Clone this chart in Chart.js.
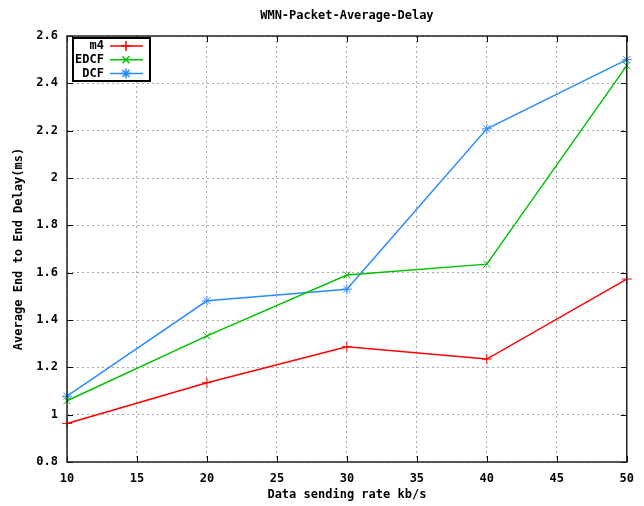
<!DOCTYPE html>
<html>
<head>
<meta charset="utf-8">
<script src="https://cdn.jsdelivr.net/npm/chart.js@4"></script>
<style>
    html, body { margin: 0; padding: 0; background: #fff; }
    #wrap { width: 644px; height: 506px; position: relative; }
</style>
</head>
<body>
<div id="wrap"><canvas id="chart"></canvas></div>
<script>
const rates = [10, 20, 30, 40, 50];
const m4 = [0.963, 1.135, 1.287, 1.235, 1.573];
const edcf = [1.059, 1.333, 1.590, 1.636, 2.475];
const dcf = [1.078, 1.481, 1.530, 2.208, 2.500];

const monoFont = { family: 'DejaVu Sans Mono', size: 12, weight: 'bold' };

const toPoints = (vals) => rates.map((r, i) => ({ x: r, y: vals[i] }));

// gnuplot-like frame, inner ticks and legend box //
const gnuplotFrame = {
    id: 'gnuplotFrame',
    afterDraw(c) {
        const ctx = c.ctx;
        const a = c.chartArea;
        const xs = c.scales.x, ys = c.scales.y;
        ctx.save();
        ctx.strokeStyle = '#000';
        ctx.lineWidth = 1;
        ctx.beginPath();
        xs.ticks.forEach(t => {
            const px = Math.round(xs.getPixelForValue(t.value)) + 0.5;
            ctx.moveTo(px, a.bottom); ctx.lineTo(px, a.bottom - 6);
            ctx.moveTo(px, a.top); ctx.lineTo(px, a.top + 6);
        });
        ys.ticks.forEach(t => {
            const py = Math.round(ys.getPixelForValue(t.value)) + 0.5;
            ctx.moveTo(a.left, py); ctx.lineTo(a.left + 6, py);
            ctx.moveTo(a.right, py); ctx.lineTo(a.right - 6, py);
        });
        ctx.stroke();
        ctx.strokeStyle = '#222';
        ctx.lineWidth = 1.5;
        ctx.strokeRect(a.left, a.top, a.right - a.left, a.bottom - a.top);

        // legend
        const bx = a.left + 6, by = a.top + 2, bw = 77, bh = 43;
        ctx.fillStyle = '#fff';
        ctx.fillRect(bx, by, bw, bh);
        ctx.strokeStyle = '#000';
        ctx.lineWidth = 2;
        ctx.strokeRect(bx, by, bw, bh);
        ctx.font = 'bold 12px "DejaVu Sans Mono"';
        ctx.textAlign = 'right';
        ctx.textBaseline = 'middle';
        c.data.datasets.forEach((ds, i) => {
            const y = by + 8 + i * 13.7;
            ctx.fillStyle = '#000';
            ctx.fillText(ds.label, bx + 31, y);
            ctx.strokeStyle = ds.borderColor;
            ctx.lineWidth = 1.5;
            ctx.beginPath();
            ctx.moveTo(bx + 37, y); ctx.lineTo(bx + 70, y);
            ctx.stroke();
            Chart.helpers.drawPoint(ctx, {
                pointStyle: ds.pointStyle, radius: 5, borderWidth: 1
            }, bx + 53, y);
        });
        ctx.restore();
    }
};

new Chart(document.querySelector('#chart'), {
    type: 'line',
    data: {
        datasets: [
            { label: 'm4', data: toPoints(m4), borderColor: '#ff0000', pointStyle: 'cross' },
            { label: 'EDCF', data: toPoints(edcf), borderColor: '#00c000', pointStyle: 'crossRot' },
            { label: 'DCF', data: toPoints(dcf), borderColor: '#2b8cff', pointStyle: 'star' }
        ].map(ds => Object.assign(ds, {
            borderWidth: 1.5,
            pointBorderColor: ds.borderColor,
            pointRadius: 5,
            pointBorderWidth: 1,
            fill: false,
            tension: 0,
            clip: false
        }))
    },
    options: {
        responsive: true,
        maintainAspectRatio: false,
        animation: false,
        layout: { padding: { left: 0, right: 9, top: 0, bottom: 0 } },
        plugins: {
            legend: { display: false },
            tooltip: { enabled: false },
            title: {
                display: true,
                text: 'WMN-Packet-Average-Delay',
                fullSize: false,
                color: '#000',
                font: monoFont,
                padding: { top: 9, bottom: 12.6 }
            }
        },
        scales: {
            x: {
                type: 'linear',
                min: 10,
                max: 50,
                afterFit: s => { s.height = 44; },
                ticks: { stepSize: 5, color: '#000', font: monoFont, padding: 10, maxRotation: 0 },
                grid: { color: '#a8a8a8', drawTicks: false },
                border: { display: false, dash: [2, 3] },
                title: { display: true, text: 'Data sending rate kb/s', color: '#000', font: monoFont, padding: { top: 0, bottom: 4 } }
            },
            y: {
                min: 0.8,
                max: 2.6,
                afterFit: s => { s.width = 67; },
                ticks: {
                    stepSize: 0.2, color: '#000', font: monoFont, padding: 9,
                    callback: v => String(Number(v.toFixed(1)))
                },
                grid: { color: '#a8a8a8', drawTicks: false },
                border: { display: false, dash: [2, 3] },
                title: { display: true, text: 'Average End to End Delay(ms)', color: '#000', font: monoFont, padding: { top: 12, bottom: 0 } }
            }
        }
    },
    plugins: [gnuplotFrame]
});
</script>
</body>
</html>
